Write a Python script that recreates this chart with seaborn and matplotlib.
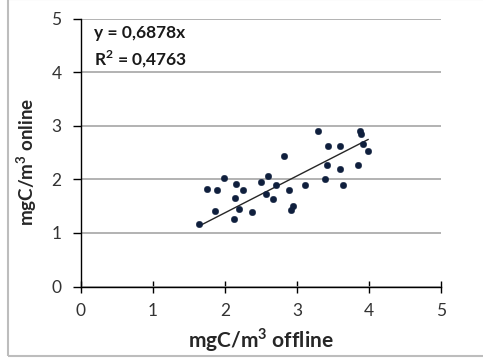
import matplotlib
matplotlib.use("Agg")
import matplotlib.pyplot as plt
import seaborn as sns
import numpy as np
import pandas as pd
from matplotlib.patches import Rectangle

offline = [1.643, 1.746, 1.857, 1.885, 1.982, 2.121, 2.139, 2.157, 2.194, 2.246,
           2.371, 2.496, 2.569, 2.601, 2.671, 2.708, 2.815, 2.885, 2.917, 2.940,
           3.115, 3.292, 3.385, 3.417, 3.435, 3.597, 3.597, 3.635, 3.843, 3.879,
           3.885, 3.917, 3.990]
online = [1.166, 1.819, 1.414, 1.795, 2.030, 1.265, 1.651, 1.912, 1.440, 1.795,
          1.390, 1.955, 1.726, 2.062, 1.627, 1.888, 2.440, 1.795, 1.433, 1.507,
          1.888, 2.896, 2.006, 2.272, 2.627, 2.627, 2.198, 1.888, 2.272, 2.896,
          2.840, 2.653, 2.534]
slope = 0.6878
r2 = 0.4763
x_ticks = [0, 1, 2, 3, 4, 5]
y_ticks = [0, 1, 2, 3, 4, 5]
x_label = r"mgC/m$^{\mathbf{3}}$ offline"
y_label = r"mgC/m$^{\mathbf{3}}$ online"

sns.set_theme(style="white")
plt.rcParams['font.family'] = ['Lato', 'DejaVu Sans']
plt.rcParams['mathtext.fontset'] = 'custom'
plt.rcParams['mathtext.rm'] = 'Lato'
plt.rcParams['mathtext.bf'] = 'Lato:bold'

df = pd.DataFrame({"offline": offline, "online": online})
xs = np.array([min(offline), max(offline)])
trend = pd.DataFrame({"x": xs, "y": slope * xs})

fig = plt.figure(figsize=(4.83, 3.61), dpi=100)
ax = fig.add_axes([81/483, 1-286.5/361, 360/483, 268/361])

ax.set_xlim(0, 5)
ax.set_ylim(0, 5)
ax.yaxis.grid(True, color="#a6a6a6", linewidth=1.2)
ax.xaxis.grid(False)
ax.set_axisbelow(True)

sns.lineplot(data=trend, x="x", y="y", color="#262626", linewidth=1.0, ax=ax)
sns.scatterplot(data=df, x="offline", y="online", color="#0f1f3d", s=22,
                edgecolor="#0f1f3d", linewidth=0.3, ax=ax, zorder=3)

ax.set_xticks(x_ticks)
ax.set_yticks(y_ticks)
ax.set_xticklabels([str(t) for t in x_ticks])
ax.set_yticklabels([str(t) for t in y_ticks])
for s in ["top", "right"]:
    ax.spines[s].set_visible(False)
for s in ["left", "bottom"]:
    ax.spines[s].set_color("black")
    ax.spines[s].set_linewidth(1.0)
ax.tick_params(axis="x", direction="inout", length=8, width=1, colors="black",
               labelsize=12.5, pad=8, labelcolor="#333333")
ax.tick_params(axis="y", direction="out", length=6, width=1, colors="black",
               labelsize=12.5, pad=8, labelcolor="#333333")
ax.tick_params(left=True, bottom=True)

ax.set_xlabel(x_label, fontsize=15, fontweight="bold", labelpad=5)
ax.set_ylabel(y_label, fontsize=13.5, fontweight="bold")
ax.yaxis.set_label_coords(-0.118, 0.465)

eq = f"y = {slope:.4f}x".replace(".", ",")
rr = (r"R$^{\mathbf{2}}$" + f" = {r2:.4f}").replace(".", ",")
ax.text(0.035, 0.975, eq, transform=ax.transAxes, fontsize=12.5, fontweight="bold",
        va="top", ha="left", color="#1a1a1a")
ax.text(0.035, 0.887, rr, transform=ax.transAxes, fontsize=12.5, fontweight="bold",
        va="top", ha="left", color="#1a1a1a")

fig.patches.append(Rectangle((8/483, 1-356/361), 1.2, 356/361 + 0.002,
                             transform=fig.transFigure, fill=False,
                             edgecolor="#bdbdbd", linewidth=1.5))

fig.savefig("out.png", dpi=100)
